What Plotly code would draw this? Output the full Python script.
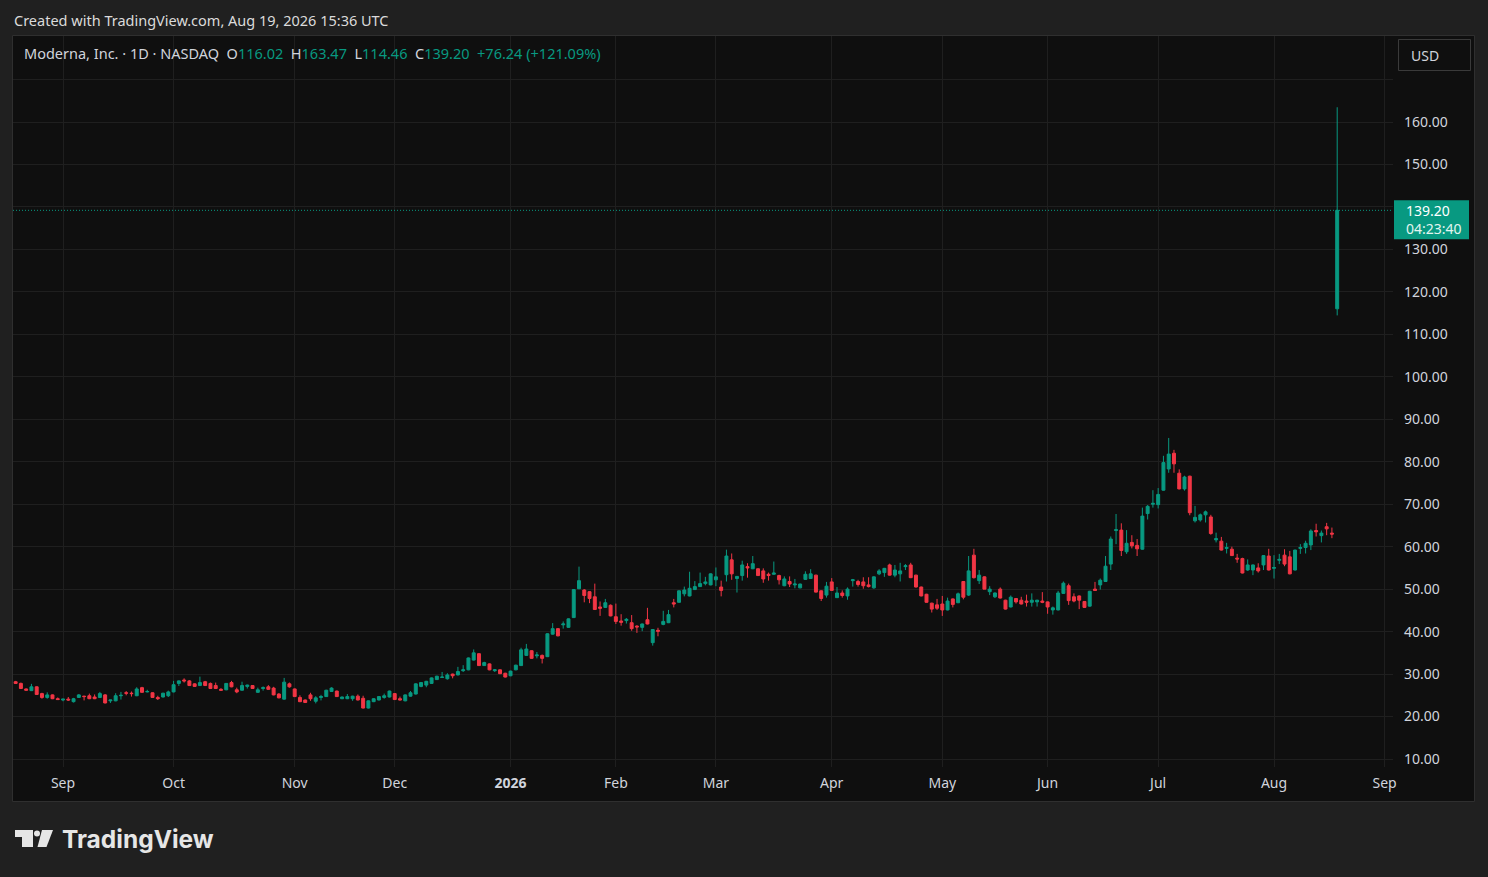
import pandas as pd
import plotly.graph_objects as go

# Moderna, Inc. (NASDAQ: MRNA) daily candles, Aug 19 2025 -> Aug 19 2026
opens = [
    28.2, 27.8, 26.5, 26.1, 27.0, 25.4, 24.5, 25.1, 24.2, 23.9,
    24.1, 23.5, 24.5, 24.8, 24.9, 24.6, 24.5, 25.1, 23.7, 23.7,
    24.9, 25.6, 25.5, 24.9, 26.8, 25.8, 25.6, 24.5, 24.6, 24.9,
    25.8, 27.8, 28.6, 28.4, 27.7, 27.3, 28.2, 27.8, 27.3, 26.4,
    26.3, 28.0, 26.3, 26.2, 27.1, 27.3, 25.7, 26.6, 27.0, 26.7,
    25.3, 24.1, 27.7, 26.5, 24.5, 23.9, 25.1, 23.6, 24.5, 24.7,
    25.9, 26.0, 24.2, 24.2, 24.2, 24.8, 24.3, 22.0, 23.5, 23.9,
    24.5, 24.6, 25.4, 24.2, 23.7, 24.8, 25.3, 27.1, 27.4, 27.8,
    28.7, 29.2, 28.9, 30.0, 29.8, 30.8, 31.0, 33.3, 34.8, 32.0,
    32.4, 30.8, 31.0, 30.2, 29.6, 31.0, 32.0, 34.4, 35.5, 34.3,
    34.4, 34.1, 39.4, 40.7, 41.6, 41.0, 43.3, 50.1, 49.8, 49.4,
    48.2, 45.8, 45.7, 46.2, 43.5, 42.5, 42.6, 42.1, 41.3, 41.0,
    42.8, 37.4, 40.3, 41.7, 42.1, 46.8, 46.9, 48.9, 48.4, 49.9,
    50.6, 51.3, 51.0, 52.2, 50.5, 53.4, 56.9, 52.5, 53.2, 55.3,
    54.8, 54.8, 54.3, 53.5, 53.5, 53.2, 50.8, 51.8, 51.0, 50.3,
    52.3, 52.5, 53.3, 49.6, 48.6, 51.7, 48.0, 49.1, 48.4, 52.0,
    51.8, 51.7, 51.0, 50.3, 53.6, 53.9, 55.7, 53.3, 53.6, 55.3,
    55.7, 53.3, 50.5, 48.8, 46.7, 46.3, 46.5, 45.1, 47.7, 46.8,
    51.8, 48.6, 58.0, 52.0, 52.9, 49.4, 48.2, 50.0, 47.4, 45.8,
    47.8, 47.4, 47.2, 46.9, 47.0, 47.2, 47.0, 45.1, 45.1, 49.0,
    50.8, 48.2, 48.4, 47.1, 46.0, 50.0, 51.0, 51.8, 55.9, 63.8,
    63.9, 58.8, 61.0, 60.3, 59.4, 67.8, 70.0, 69.9, 73.3, 78.3,
    82.0, 77.3, 73.6, 76.6, 66.1, 66.3, 67.5, 67.0, 61.6, 61.3,
    59.6, 59.4, 57.3, 57.2, 54.5, 54.5, 55.0, 55.7, 57.8, 54.9,
    56.8, 58.0, 57.6, 54.5, 59.6, 59.8, 60.4, 63.8, 62.6, 64.7,
    63.2, 116.02,
]
highs = [
    28.4, 28.0, 26.6, 27.7, 27.1, 25.6, 25.7, 25.2, 24.5, 24.1,
    24.6, 24.4, 25.3, 24.9, 25.4, 25.2, 25.8, 25.3, 23.9, 25.5,
    25.8, 26.0, 25.9, 26.9, 27.0, 26.3, 25.7, 24.9, 25.6, 26.1,
    28.4, 28.5, 29.0, 28.6, 27.8, 29.4, 28.4, 28.0, 28.0, 26.7,
    27.9, 28.4, 26.8, 28.2, 27.5, 27.4, 26.8, 27.1, 27.4, 27.0,
    25.5, 29.1, 28.0, 26.6, 25.0, 24.0, 25.6, 24.8, 25.1, 26.3,
    26.9, 26.1, 24.7, 25.3, 24.9, 25.2, 24.9, 23.8, 24.3, 24.8,
    25.4, 26.1, 25.5, 24.7, 25.2, 26.0, 27.8, 28.1, 28.4, 29.2,
    29.6, 30.5, 30.2, 30.1, 31.7, 32.1, 33.9, 35.8, 34.9, 32.9,
    32.5, 31.2, 31.1, 30.3, 30.8, 32.2, 36.2, 37.1, 35.6, 35.2,
    34.6, 39.6, 42.0, 40.8, 42.4, 43.1, 50.0, 55.3, 50.0, 49.5,
    51.3, 47.1, 47.7, 46.4, 46.6, 44.1, 43.2, 43.9, 41.5, 41.9,
    45.6, 40.6, 40.9, 44.9, 45.1, 47.7, 49.7, 50.6, 54.1, 51.9,
    53.9, 52.9, 53.7, 55.1, 52.0, 59.3, 58.4, 53.1, 56.7, 56.1,
    57.8, 54.9, 54.9, 53.9, 56.5, 53.4, 53.0, 53.0, 52.4, 51.3,
    54.2, 54.7, 53.4, 49.7, 51.7, 52.6, 50.5, 49.7, 50.4, 52.4,
    52.2, 52.8, 52.8, 53.0, 54.7, 55.0, 56.0, 55.7, 56.2, 55.9,
    56.2, 53.4, 50.6, 48.9, 46.8, 47.7, 48.4, 48.0, 47.8, 49.2,
    51.9, 57.8, 59.5, 54.5, 53.0, 50.7, 49.2, 50.4, 47.5, 48.5,
    47.9, 48.2, 48.7, 49.0, 47.5, 49.3, 47.1, 45.9, 49.6, 51.8,
    51.3, 49.0, 48.5, 47.2, 49.6, 51.7, 52.5, 57.8, 62.4, 67.7,
    65.5, 63.9, 62.7, 61.8, 69.2, 69.8, 73.3, 73.8, 81.4, 85.6,
    82.8, 78.2, 76.7, 76.7, 69.6, 67.8, 68.5, 67.5, 63.3, 62.3,
    60.9, 60.0, 58.3, 57.4, 57.0, 55.8, 56.1, 58.0, 59.5, 58.0,
    58.3, 59.4, 59.0, 59.3, 60.6, 61.4, 64.1, 65.4, 63.8, 65.6,
    64.5, 163.47,
]
lows = [
    27.7, 26.5, 26.1, 26.0, 25.1, 24.2, 24.2, 24.1, 23.9, 23.6,
    23.7, 23.3, 24.4, 23.8, 24.1, 24.1, 24.4, 23.1, 23.2, 23.6,
    24.0, 25.0, 24.7, 24.8, 25.6, 25.7, 24.5, 23.9, 24.5, 24.6,
    25.7, 27.2, 28.0, 27.2, 27.0, 27.2, 27.2, 26.5, 26.5, 26.1,
    26.2, 26.9, 25.5, 26.1, 26.6, 26.5, 25.6, 26.1, 26.3, 25.0,
    24.3, 24.0, 26.8, 24.6, 23.4, 23.2, 23.7, 23.1, 23.8, 24.6,
    25.8, 24.6, 24.1, 24.1, 23.7, 23.8, 21.9, 21.9, 23.4, 23.8,
    24.2, 24.5, 23.9, 23.8, 23.6, 24.7, 25.2, 26.9, 26.9, 27.7,
    28.6, 29.1, 28.7, 29.0, 29.7, 30.5, 30.9, 33.2, 31.9, 31.9,
    30.9, 30.5, 30.0, 29.2, 29.5, 30.9, 31.9, 34.3, 33.6, 33.7,
    32.5, 34.0, 39.3, 38.9, 40.7, 40.9, 43.2, 50.0, 46.9, 46.7,
    45.1, 43.7, 45.6, 43.6, 41.8, 41.4, 41.9, 40.2, 39.7, 40.1,
    41.7, 36.7, 38.9, 41.5, 42.0, 45.7, 46.8, 48.3, 48.3, 49.8,
    50.5, 50.9, 50.9, 50.7, 48.3, 51.8, 52.2, 49.2, 52.0, 52.7,
    54.7, 53.1, 51.5, 52.0, 53.4, 51.1, 50.7, 50.5, 50.2, 50.2,
    52.2, 52.4, 49.2, 47.2, 48.0, 49.6, 47.9, 48.0, 47.5, 50.6,
    50.6, 50.1, 50.4, 50.1, 53.3, 52.9, 53.2, 52.8, 51.8, 54.5,
    52.6, 50.4, 48.3, 46.8, 44.5, 45.1, 43.7, 45.0, 45.7, 46.7,
    47.6, 48.4, 52.5, 51.2, 50.0, 48.6, 47.9, 47.8, 45.2, 45.7,
    46.6, 46.4, 45.9, 45.9, 45.9, 46.7, 44.2, 44.0, 45.0, 48.9,
    46.3, 46.9, 45.3, 45.6, 45.9, 49.6, 49.9, 51.7, 54.5, 60.6,
    57.8, 58.3, 59.6, 57.8, 59.3, 66.4, 69.2, 69.0, 73.2, 77.4,
    77.4, 73.5, 73.2, 67.4, 65.7, 65.9, 65.7, 62.8, 61.0, 59.1,
    58.4, 57.8, 56.2, 53.7, 54.3, 53.3, 53.9, 54.5, 54.4, 52.5,
    55.9, 55.4, 53.5, 54.4, 58.3, 58.4, 59.2, 62.4, 61.0, 62.7,
    62.0, 114.46,
]
closes = [
    27.8, 26.6, 26.2, 27.0, 25.2, 24.5, 25.1, 24.2, 24.0, 24.1,
    23.9, 24.2, 25.1, 24.7, 24.2, 24.2, 25.4, 23.2, 23.9, 24.9,
    25.0, 25.5, 25.4, 26.5, 25.7, 25.9, 24.5, 24.2, 25.5, 25.8,
    27.5, 28.4, 28.4, 27.3, 27.1, 28.0, 27.3, 26.6, 26.6, 26.2,
    27.8, 27.0, 25.8, 27.3, 27.4, 26.6, 26.3, 26.8, 26.4, 25.1,
    24.4, 28.1, 27.0, 24.7, 23.5, 23.3, 24.2, 24.4, 24.7, 26.2,
    26.7, 24.7, 24.6, 24.7, 24.8, 23.9, 22.0, 23.7, 24.2, 24.7,
    24.9, 26.0, 24.0, 23.9, 25.1, 25.6, 27.7, 28.0, 28.3, 29.1,
    29.5, 29.3, 29.8, 29.6, 30.6, 31.0, 33.8, 35.0, 32.0, 32.7,
    31.0, 31.0, 30.1, 29.3, 30.7, 32.1, 35.7, 35.9, 33.7, 34.5,
    33.7, 39.5, 40.7, 39.0, 41.8, 43.0, 49.9, 52.0, 48.5, 47.8,
    45.2, 45.5, 46.8, 43.7, 42.4, 42.2, 42.9, 40.7, 41.1, 41.8,
    41.8, 40.5, 40.1, 42.4, 44.0, 46.5, 49.6, 49.8, 50.2, 50.6,
    51.3, 51.7, 53.6, 52.9, 49.7, 57.8, 53.6, 53.0, 55.7, 55.0,
    56.0, 53.2, 52.4, 53.2, 53.8, 52.2, 52.4, 51.2, 51.2, 51.2,
    53.5, 53.6, 49.3, 47.8, 50.7, 49.7, 49.1, 48.5, 50.0, 52.2,
    51.1, 50.8, 50.6, 52.9, 54.3, 54.9, 53.3, 54.5, 54.3, 55.5,
    52.7, 50.5, 48.4, 46.9, 45.3, 45.5, 45.1, 47.2, 46.4, 48.9,
    48.1, 54.3, 52.7, 53.3, 50.0, 50.0, 49.1, 47.9, 45.3, 48.1,
    47.0, 46.5, 46.9, 47.4, 47.4, 46.9, 45.8, 45.6, 49.1, 51.4,
    47.3, 47.2, 47.4, 45.7, 49.5, 49.7, 52.1, 55.4, 61.8, 64.0,
    59.1, 60.8, 60.2, 59.5, 67.2, 69.5, 70.2, 72.3, 79.8, 81.8,
    79.5, 73.6, 76.4, 68.0, 66.9, 67.5, 68.2, 63.1, 61.9, 59.2,
    59.8, 57.9, 57.1, 53.8, 55.7, 55.7, 54.3, 57.9, 54.5, 55.1,
    57.0, 55.9, 53.6, 59.2, 59.8, 60.8, 63.7, 63.5, 63.2, 64.2,
    62.96, 139.20,
]

# exchange holidays inside the window (trading-day calendar)
holidays = ["2025-09-01", "2025-11-27", "2025-12-25", "2026-01-01", "2026-01-19",
            "2026-02-16", "2026-04-03", "2026-05-25", "2026-06-19", "2026-07-03",
            "2026-09-07"]
first_day = "2025-08-19"
axis_end_day = "2026-09-30"
price_ticks = [10, 20, 30, 40, 50, 60, 70, 80, 90, 100, 110, 120, 130, 140, 150, 160, 170]
countdown = "04:23:40"

GREEN = "#089981"
RED = "#f23645"
TXT = "#d1d4dc"
GRID = "#1f1f1f"
FONT = "Noto Sans"

W, H = 1488, 877
PL, PR, PT, PB = 13, 1393, 36, 767   # plot area in pixels


def px(x):
    return (x - PL) / (PR - PL)


def py(y):
    return (PB - y) / (PB - PT)


def path_px(points):
    s = "M " + " L ".join("%.5f,%.5f" % (px(a), py(b)) for a, b in points)
    return s + " Z"


# trading-day calendar, bars are placed by their index on it
cal = pd.bdate_range(first_day, axis_end_day, freq="C", holidays=holidays)
n = len(closes)
dates = cal[:n]
x_idx = list(range(n))
x_max = 261.6

tickvals, ticktext = [], []
for i in range(1, len(cal)):
    if cal[i].month != cal[i - 1].month and i <= x_max:
        tickvals.append(i)
        if cal[i].month == 1:
            ticktext.append("<b>%d</b>" % cal[i].year)
        else:
            ticktext.append(cal[i].strftime("%b"))

fig = go.Figure()
fig.add_trace(go.Candlestick(
    x=x_idx, open=opens, high=highs, low=lows, close=closes,
    text=[d.strftime("%b %d, %Y") for d in dates], hoverinfo="text",
    increasing=dict(line=dict(color=GREEN, width=1), fillcolor=GREEN),
    decreasing=dict(line=dict(color=RED, width=1), fillcolor=RED),
    whiskerwidth=0, showlegend=False,
))

last_o, last_h, last_l, last_c = opens[-1], highs[-1], lows[-1], closes[-1]
chg = last_c - closes[-2]
pct = chg / closes[-2] * 100

# price labels: top one and the one under the last-price badge are not shown
price_text = []
for v in price_ticks:
    if v > 160 or abs(v - last_c) < 5:
        price_text.append("")
    else:
        price_text.append("%.2f" % v)

shapes = [
    # chart panel
    dict(type="rect", xref="paper", yref="paper", layer="below",
         x0=px(12.5), x1=px(1474.5), y0=py(801.5), y1=py(35.5),
         fillcolor="#0f0f0f", line=dict(color="#2f2f2f", width=1)),
    # last price line
    dict(type="line", xref="paper", yref="y", x0=0, x1=1, y0=last_c, y1=last_c,
         line=dict(color=GREEN, width=1, dash="1px,2px")),
    # last price badge
    dict(type="rect", xref="paper", yref="y", ysizemode="pixel", yanchor=last_c,
         x0=px(1394), x1=px(1469), y0=10, y1=-29,
         fillcolor=GREEN, line=dict(width=0), layer="above"),
    # USD button
    dict(type="rect", xref="paper", yref="paper",
         x0=px(1398.5), x1=px(1470.5), y0=py(70.5), y1=py(39.5),
         fillcolor="#0f0f0f", line=dict(color="#3a3a3a", width=1)),
    # TradingView logo
    dict(type="path", xref="paper", yref="paper", line=dict(width=0), fillcolor="#e6e6e6",
         path=path_px([(15, 830), (33, 830), (33, 847), (22, 847), (22, 837), (15, 837)])),
    dict(type="circle", xref="paper", yref="paper", line=dict(width=0), fillcolor="#e6e6e6",
         x0=px(34), x1=px(40), y0=py(836.5), y1=py(830.5)),
    dict(type="path", xref="paper", yref="paper", line=dict(width=0), fillcolor="#e6e6e6",
         path=path_px([(42, 830), (53, 830), (46.5, 847), (37.5, 847)])),
]

sp = "\u00a0"
legend_txt = (
    "Moderna, Inc." + sp + "·" + sp + "1D" + sp + "·" + sp + "NASDAQ" + sp * 2
    + "O<span style='color:%s'>%.2f</span>" % (GREEN, last_o) + sp * 2
    + "H<span style='color:%s'>%.2f</span>" % (GREEN, last_h) + sp * 2
    + "L<span style='color:%s'>%.2f</span>" % (GREEN, last_l) + sp * 2
    + "C<span style='color:%s'>%.2f</span>" % (GREEN, last_c) + sp * 2
    + "<span style='color:%s'>%+.2f%s(%+.2f%%)</span>" % (GREEN, chg, sp, pct)
)

annotations = [
    dict(text="Created with TradingView.com, Aug 19, 2026 15:36 UTC",
         xref="paper", yref="paper", x=px(12), y=py(20), xanchor="left", yanchor="middle",
         showarrow=False, font=dict(family=FONT, size=14.5, color="#dbdbdb")),
    dict(text=legend_txt, xref="paper", yref="paper", x=px(22), y=py(53),
         xanchor="left", yanchor="middle", showarrow=False,
         font=dict(family=FONT, size=14.5, color=TXT)),
    dict(text="USD", xref="paper", yref="paper", x=px(1409), y=py(55),
         xanchor="left", yanchor="middle", showarrow=False,
         font=dict(family=FONT, size=14, color=TXT)),
    dict(text="%.2f<br><span style='color:#e3f5f0'>%s</span>" % (last_c, countdown),
         xref="paper", yref="y", x=px(1404), y=last_c, yshift=11,
         xanchor="left", yanchor="top", align="left", showarrow=False,
         font=dict(family=FONT, size=14, color="#ffffff")),
    dict(text="<b>TradingView</b>", xref="paper", yref="paper", x=px(60), y=py(839),
         xanchor="left", yanchor="middle", showarrow=False,
         font=dict(family="Inter", size=24.5, color="#e6e6e6")),
]

fig.update_layout(
    width=W, height=H, autosize=False,
    margin=dict(l=PL, r=W - PR, t=PT, b=H - PB),
    paper_bgcolor="#202020", plot_bgcolor="rgba(0,0,0,0)",
    shapes=shapes, annotations=annotations,
    boxgap=0.2, hovermode="x",
    font=dict(family=FONT, size=14, color=TXT),
    xaxis=dict(
        range=[-0.5, x_max], rangeslider=dict(visible=False),
        tickvals=tickvals, ticktext=ticktext, ticks="", ticklabelstandoff=6,
        showgrid=True, gridcolor=GRID, gridwidth=1, zeroline=False, showline=False,
        tickfont=dict(family=FONT, size=14, color=TXT),
    ),
    yaxis=dict(
        side="right", range=[8.12, 180.25],
        tickvals=price_ticks, ticktext=price_text,
        ticks="", ticklabelstandoff=10,
        showgrid=True, gridcolor=GRID, gridwidth=1, zeroline=False, showline=False,
        tickfont=dict(family=FONT, size=14, color=TXT),
    ),
)

# page margin off so the figure sits at the window corner, no modebar
fig.write_html("out.html", config={"displayModeBar": False},
               post_script="document.body.style.margin='0';document.body.style.background='#202020';")
